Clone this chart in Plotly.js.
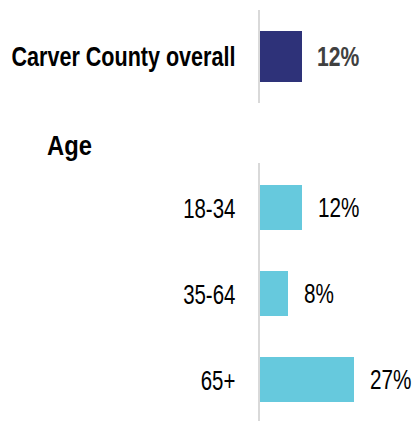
<!DOCTYPE html>
<html><head><meta charset="utf-8">
<script src="https://cdn.plot.ly/plotly-3.0.1.min.js"></script>
<style>html,body{margin:0;padding:0;background:#fff;}#chart{width:416px;height:421px;}</style>
</head><body><div id="chart"></div>
<script>
const overallCategories = ["Carver County overall"];
const overallValues = [12];
const ageCategories = ["18-34", "35-64", "65+"];
const ageValues = [12, 8, 27];
const groupHeading = "Age";

const FONT = '"Liberation Sans", Arial, sans-serif';

const traces = [
  {type:'bar', orientation:'h', y: overallCategories, x: overallValues, xaxis:'x', yaxis:'y',
   marker:{color:'#2e3279'}, width:0.54, hoverinfo:'none'},
  {type:'bar', orientation:'h', y: ageCategories, x: ageValues, xaxis:'x2', yaxis:'y2',
   marker:{color:'#66c9dd'}, width:0.523, hoverinfo:'none'}
];

const annotations = [];
overallCategories.forEach((c,i)=>annotations.push({x: overallValues[i], y: c, xref:'x', yref:'y',
  text: overallValues[i] + '%', showarrow:false, xanchor:'left', xshift:13, name:'sq0.755',
  font:{family:FONT, size:28, color:'#404040', weight:'bold'}}));
ageCategories.forEach((c,i)=>annotations.push({x: ageValues[i], y: c, xref:'x2', yref:'y2',
  text: ageValues[i] + '%', showarrow:false, xanchor:'left', xshift:14, name:'sq0.74',
  font:{family:FONT, size:28, color:'#000'}}));
annotations.push({text: groupHeading, xref:'paper', yref:'paper', x:(45-260)/156, y:1-145/421,
  xanchor:'left', yanchor:'middle', showarrow:false, name:'sq0.85',
  font:{family:FONT, size:28, color:'#000', weight:'bold'}});

const xr = [0, 156/3.48];
const layout = {
  width:416, height:421, margin:{l:260, r:0, t:0, b:0},
  paper_bgcolor:'#fff', plot_bgcolor:'#fff', showlegend:false, bargap:0,
  xaxis:{domain:[0,1], range:xr, visible:false, anchor:'y'},
  xaxis2:{domain:[0,1], range:xr, visible:false, anchor:'y2'},
  yaxis:{domain:[1-103/421, 1-10/421], anchor:'x', type:'category', range:[0.5,-0.5],
    showline:true, linecolor:'#d9d9d9', linewidth:2, showgrid:false, zeroline:false,
    ticks:'', ticklabelstandoff:17, tickfont:{family:FONT, size:28, color:'#000', weight:'bold'}},
  yaxis2:{domain:[0, 1-163/421], anchor:'x2', type:'category', range:[2.477,-0.523],
    showline:true, linecolor:'#d9d9d9', linewidth:2, showgrid:false, zeroline:false,
    ticks:'', ticklabelstandoff:17, tickfont:{family:FONT, size:28, color:'#000'}},
  annotations: annotations
};

function squeeze(el, s, anchor){
  const b = el.getBBox();
  const ox = anchor === 'right' ? b.x + b.width : b.x;
  const t = el.getAttribute('transform') || '';
  el.setAttribute('transform', t + ' translate(' + ox + ',0) scale(' + s + ',1) translate(' + (-ox) + ',0)');
}

Plotly.newPlot('chart', traces, layout, {displayModeBar:false, staticPlot:true}).then(gd=>{
  gd.querySelectorAll('.yaxislayer-above .ytick text').forEach(el=>squeeze(el, 0.77, 'right'));
  gd.querySelectorAll('.y2tick text, .yaxislayer-above .y2tick text').forEach(el=>{
    if(!el.dataset.sq){ el.dataset.sq=1; squeeze(el, 0.73, 'right'); }
  });
  const anns = gd.querySelectorAll('.annotation');
  anns.forEach((g,i)=>{
    const s = parseFloat(annotations[i].name.slice(2));
    const t = g.querySelector('text');
    if(t) squeeze(t, s, 'left');
  });
});
</script></body></html>
